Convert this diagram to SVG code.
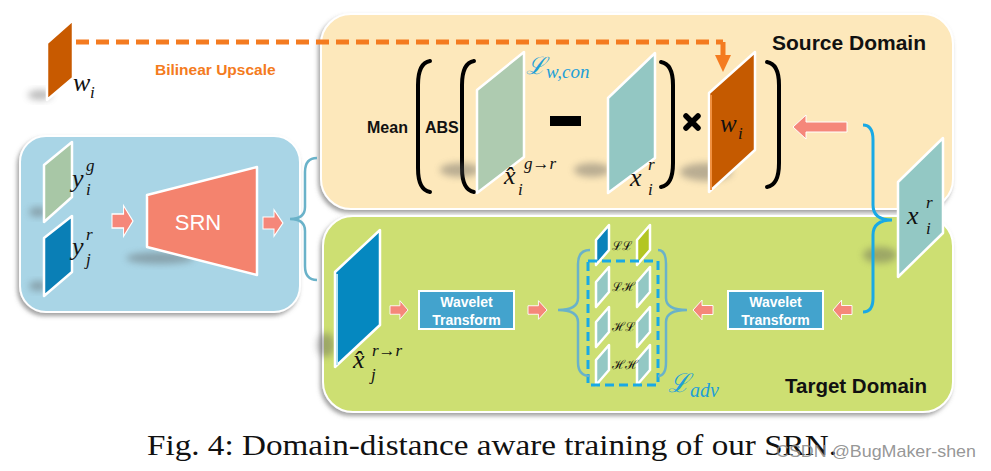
<svg xmlns="http://www.w3.org/2000/svg" width="991" height="471" viewBox="0 0 991 471">
<defs>
<filter id="ds" x="-10%" y="-10%" width="120%" height="125%"><feDropShadow dx="-2" dy="3" stdDeviation="2" flood-color="#666" flood-opacity="0.6"/></filter>
<filter id="blur" x="-50%" y="-50%" width="200%" height="200%"><feGaussianBlur stdDeviation="3.5"/></filter>
<path id="arR" d="M0,-5 H11 V-11 L20,0 L11,11 V5 H0 Z"/>
</defs>
<style>
.math{font-family:"Liberation Serif","DejaVu Serif",serif;font-style:italic;fill:#111}
.scr{font-family:"DejaVu Serif","Liberation Serif",serif;font-style:italic}
.bold{font-family:"Liberation Sans",Arial,sans-serif;font-weight:bold}
.face{stroke:#fff;stroke-width:2.5;stroke-linejoin:round}
.sh{fill:#555;opacity:0.4;filter:url(#blur)}
.sarrow{fill:#f5877a;stroke:#fff;stroke-width:1}
.wt{fill:#43a3cd;stroke:#fff;stroke-width:2}
.wtt{font-family:"Liberation Sans",Arial,sans-serif;font-weight:bold;font-size:14px;fill:#fff;text-anchor:middle}
.brace{fill:none;stroke:#6ab2c9;stroke-width:2.5}
.brace2{fill:none;stroke:#19a9e5;stroke-width:3}
.paren{fill:none;stroke:#000;stroke-width:4;stroke-linecap:round}
.sub{fill:#93c8c4}
.lbl{font-family:"DejaVu Serif","Liberation Serif",serif;font-size:12.5px;fill:#111}
</style>

<!-- panels -->
<g id="source-domain">
<rect x="321" y="14" width="632" height="195" rx="30" fill="#fde8bb" stroke="#fff" stroke-width="2" filter="url(#ds)"/>
<text class="bold" x="772" y="50" font-size="21" fill="#111">Source Domain</text>
</g>
<g id="target-domain">
<rect x="323" y="216" width="630" height="196" rx="30" fill="#cddf72" stroke="#fff" stroke-width="2" filter="url(#ds)"/>
<text class="bold" x="785" y="393" font-size="20.5" fill="#111">Target Domain</text>
</g>
<g id="generator-panel">
<rect x="20" y="136" width="280" height="176" rx="26" fill="#a9d5e6" stroke="#fff" stroke-width="2" filter="url(#ds)"/>
</g>

<!-- small w_i -->
<g id="w-small">
<ellipse class="sh" cx="40" cy="95" rx="12" ry="5"/>
<polygon class="face" points="47,43 73,20 73,78 47,100" fill="#c85a00"/>
<text class="math" x="73" y="91" font-size="26">w</text>
<text class="math" x="90" y="98" font-size="17">i</text>
</g>
<text class="bold" x="155" y="75" font-size="15.5" fill="#f47b20">Bilinear Upscale</text>

<!-- y panels -->
<g id="y-i-g">
<ellipse class="sh" cx="38" cy="212" rx="9" ry="5"/>
<polygon class="face" points="44,165 72,142 72,197 44,222" fill="#a8c7a6"/>
<text class="math" x="72" y="187" font-size="26">y</text>
<text class="math" x="86" y="171" font-size="17">g</text>
<text class="math" x="86" y="195" font-size="17">i</text>
</g>
<g id="y-j-r">
<ellipse class="sh" cx="38" cy="286" rx="9" ry="5"/>
<polygon class="face" points="44,238 72,216 72,272 44,296" fill="#0a7fb6"/>
<text class="math" x="72" y="255" font-size="26">y</text>
<text class="math" x="86" y="240" font-size="17">r</text>
<text class="math" x="86" y="265" font-size="17">j</text>
</g>
<g id="srn">
<ellipse class="sh" cx="160" cy="258" rx="34" ry="6"/>
<polygon class="face" points="147,195 257,167 257,275 147,247" fill="#f4836e"/>
<text x="198" y="230" font-family="Liberation Sans,Arial,sans-serif" font-size="22" fill="#fff" text-anchor="middle">SRN</text>
</g>

<!-- source content -->
<g id="mean-abs">
<text class="bold" x="367" y="133" font-size="16" fill="#111">Mean</text>
<text class="bold" x="425" y="133" font-size="16" fill="#111">ABS</text>
<path class="paren" d="M430,61 Q418,63 418,85 L418,168 Q418,190 430,192"/>
<path class="paren" d="M474,61 Q462,63 462,85 L462,168 Q462,190 474,192"/>
<path class="paren" d="M661,62 Q673,64 673,85 L673,163 Q673,185 661,187"/>
<path class="paren" d="M767,62 Q779,64 779,85 L779,163 Q779,185 767,187"/>
<rect x="550" y="116" width="31" height="10" fill="#000"/>
<path d="M686,116 L698,128 M698,116 L686,128" stroke="#000" stroke-width="5.5" stroke-linecap="round"/>
</g>
<g id="x-hat-g-r">
<ellipse class="sh" cx="460" cy="170" rx="20" ry="7"/>
<polygon class="face" points="477,90 524,52 524,157 477,193" fill="#aecbb0"/>
<text class="math" x="504" y="184" font-size="26">x̂</text>
<text class="math" x="524" y="169" font-size="17">g→r</text>
<text class="math" x="518" y="195" font-size="17">i</text>
</g>
<g id="L-wcon">
<text class="scr" x="526" y="74" font-size="24" fill="#1e9fd8">ℒ</text>
<text class="math" x="546" y="78" font-size="19" style="fill:#1e9fd8">w,con</text>
</g>
<g id="x-i-r-mid">
<ellipse class="sh" cx="592" cy="170" rx="18" ry="7"/>
<polygon class="face" points="608,98 655,53 655,158 608,193" fill="#93c7c3"/>
<text class="math" x="630" y="186" font-size="26">x</text>
<text class="math" x="648" y="170" font-size="17">r</text>
<text class="math" x="648" y="195" font-size="17">i</text>
</g>
<g id="w-big">
<ellipse class="sh" cx="706" cy="172" rx="26" ry="9"/>
<polygon class="face" points="709,93 755,52 755,150 709,192" fill="#c55a00"/>
<line x1="711" y1="95" x2="711" y2="190" stroke="#f09040" stroke-width="2"/>
<text class="math" x="720" y="132" font-size="25">w</text>
<text class="math" x="738" y="139" font-size="17">i</text>
</g>
<g id="x-i-r-right">
<ellipse class="sh" cx="880" cy="255" rx="17" ry="8"/>
<polygon class="face" points="898,182 943,138 943,233 898,277" fill="#93c8c4"/>
<text class="math" x="907" y="224" font-size="26">x</text>
<text class="math" x="926" y="208" font-size="17">r</text>
<text class="math" x="926" y="234" font-size="17">i</text>
</g>

<!-- target content -->
<g id="x-hat-j">
<ellipse class="sh" cx="326" cy="345" rx="9" ry="12"/>
<polygon class="face" points="335,272 380,230 380,325 335,367" fill="#0588c0"/>
<line x1="337" y1="274" x2="337" y2="365" stroke="#b8e4f4" stroke-width="2"/>
<text class="math" x="353" y="368" font-size="26">x̂</text>
<text class="math" x="372" y="356" font-size="17">r→r</text>
<text class="math" x="371" y="380" font-size="17">j</text>
</g>
<g id="wavelet-1">
<rect class="wt" x="419" y="291" width="95" height="38"/>
<text class="wtt" x="466.5" y="307">Wavelet</text>
<text class="wtt" x="466.5" y="325">Transform</text>
</g>
<g id="wavelet-2">
<rect class="wt" x="728" y="291" width="95" height="38"/>
<text class="wtt" x="775.5" y="307">Wavelet</text>
<text class="wtt" x="775.5" y="325">Transform</text>
</g>
<g id="subbands">
<polygon class="face" points="596,240 609,225 609,250 596,265" fill="#0a82ba" stroke-width="2"/>
<polygon class="face" points="637,240 650,225 650,250 637,265" fill="#b3c623" stroke-width="2"/>
<polygon class="face sub" points="596,282 609,267 609,292 596,307" stroke-width="2"/>
<polygon class="face sub" points="637,282 650,267 650,292 637,307" stroke-width="2"/>
<polygon class="face sub" points="596,322 609,307 609,332 596,347" stroke-width="2"/>
<polygon class="face sub" points="637,322 650,307 650,332 637,347" stroke-width="2"/>
<polygon class="face sub" points="596,360 609,345 609,370 596,385" stroke-width="2"/>
<polygon class="face sub" points="637,360 650,345 650,370 637,385" stroke-width="2"/>
<text class="lbl" x="612" y="250">ℒℒ</text>
<text class="lbl" x="612" y="291">ℒℋ</text>
<text class="lbl" x="612" y="331">ℋℒ</text>
<text class="lbl" x="612" y="369">ℋℋ</text>
<rect x="588" y="261" width="70" height="124" fill="none" stroke="#19a9e5" stroke-width="3" stroke-dasharray="9,5"/>
</g>
<g id="L-adv">
<text class="scr" x="668" y="392" font-size="26" fill="#1e9fd8">ℒ</text>
<text class="math" x="690" y="397" font-size="20" style="fill:#1e9fd8">adv</text>
</g>

<!-- connectors -->
<g id="connectors">
<path d="M76,42 H723" fill="none" stroke="#f47b20" stroke-width="5" stroke-dasharray="13,7"/>
<path d="M723,42 V56" fill="none" stroke="#f47b20" stroke-width="5"/>
<polygon points="715,55 731,55 723,72" fill="#f47b20"/>
<use href="#arR" class="sarrow" transform="translate(112,221) scale(1.05,1.4)"/>
<use href="#arR" class="sarrow" transform="translate(263,223) scale(1,1.2)"/>
<path class="brace" d="M317,158 Q305,158 305,172 L305,207 Q305,219 290,219 Q305,219 305,231 L305,266 Q305,280 317,280"/>
<polygon class="sarrow" points="793,127 806,115 806,122 847,122 847,132 806,132 806,139"/>
<path class="brace2" d="M863,125 Q873,125 873,140 L873,205 Q873,220 892,220 Q873,220 873,235 L873,298 Q873,312 863,312"/>
<use href="#arR" class="sarrow" transform="translate(390,310) scale(0.9,0.85)"/>
<use href="#arR" class="sarrow" transform="translate(528,310) scale(0.95,0.85)"/>
<use href="#arR" class="sarrow" transform="translate(713,310) scale(-1,0.9)"/>
<use href="#arR" class="sarrow" transform="translate(852,310) scale(-0.95,0.9)"/>
<path class="brace" d="M590,250 Q578,250 578,264 L578,298 Q578,310 558,310 Q578,310 578,322 L578,362 Q578,376 590,376"/>
<path class="brace" d="M658,250 Q666,250 666,264 L666,298 Q666,310 687,310 Q666,310 666,322 L666,362 Q666,376 658,376"/>
</g>

<text x="147" y="455" font-family="Liberation Serif,serif" font-size="30" fill="#111" textLength="690" lengthAdjust="spacingAndGlyphs">Fig. 4: Domain-distance aware training of our SRN.</text>
<text x="776" y="457" font-family="Liberation Sans,Arial,sans-serif" font-size="17" fill="#8a8a8a" fill-opacity="0.9" textLength="200" lengthAdjust="spacingAndGlyphs">CSDN @BugMaker-shen</text>
</svg>
